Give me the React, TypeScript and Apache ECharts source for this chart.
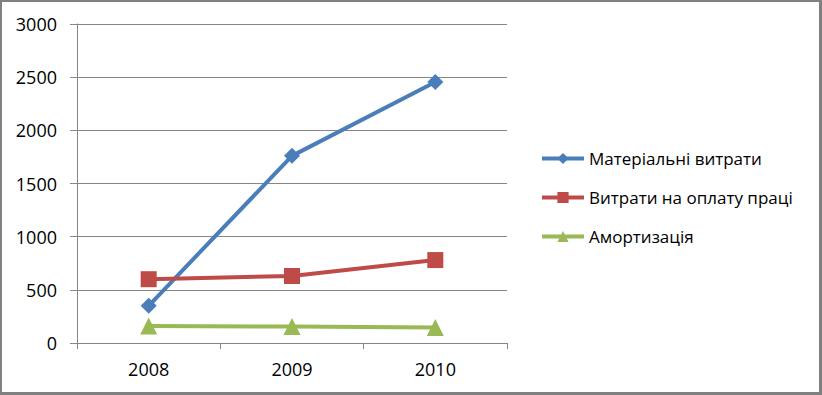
import React, { useEffect, useRef } from "react";
import * as echarts from "echarts";

const years = ["2008", "2009", "2010"];
const materialCosts = [350, 1760, 2455];
const laborCosts = [600, 630, 780];
const depreciation = [160, 155, 145];
const seriesNames = ["Матеріальні витрати", "Витрати на оплату праці", "Амортизація"];

const FONT = "'Open Sans', 'Noto Sans', sans-serif";

export default function App() {
  const ref = useRef<HTMLDivElement>(null);
  useEffect(() => {
    document.body.style.margin = "0";
    const chart = echarts.init(ref.current!, null, { renderer: "svg" });
    const axisLine = { show: true, lineStyle: { color: "#868686", width: 1 } };
    chart.setOption({
      animation: false,
      backgroundColor: "#ffffff",
      grid: { left: 77, top: 24, right: 315, bottom: 52 },
      legend: {
        orient: "vertical",
        left: 540,
        top: 150,
        padding: 0,
        itemWidth: 42,
        itemHeight: 14,
        itemGap: 22,
        lineStyle: { width: 4 },
        textStyle: { fontFamily: FONT, fontSize: 17, color: "#000" },
        data: seriesNames,
      },
      xAxis: {
        type: "category",
        data: years,
        boundaryGap: true,
        axisLine,
        axisTick: { show: true, length: 6, inside: false, lineStyle: { color: "#868686" } },
        axisLabel: { fontFamily: FONT, fontSize: 18, color: "#000", margin: 17 },
        splitLine: { show: false },
      },
      yAxis: {
        type: "value",
        min: 0,
        max: 3000,
        interval: 500,
        axisLine,
        axisTick: { show: true, length: 7, lineStyle: { color: "#868686" } },
        axisLabel: {
          fontFamily: FONT,
          fontSize: 18,
          color: "#000",
          margin: 20,
          formatter: (v: number) => String(v),
        },
        splitLine: { show: true, lineStyle: { color: "#868686", width: 1 } },
      },
      series: [
        {
          name: seriesNames[0],
          type: "line",
          data: materialCosts,
          symbol: "diamond",
          symbolSize: 16,
          lineStyle: { width: 4, color: "#4A7EBB" },
          itemStyle: { color: "#4A7EBB" },
        },
        {
          name: seriesNames[1],
          type: "line",
          data: laborCosts,
          symbol: "rect",
          symbolSize: 16,
          lineStyle: { width: 4, color: "#BE4B48" },
          itemStyle: { color: "#BE4B48" },
        },
        {
          name: seriesNames[2],
          type: "line",
          data: depreciation,
          symbol: "triangle",
          symbolSize: 17,
          lineStyle: { width: 4, color: "#98B954" },
          itemStyle: { color: "#98B954" },
        },
      ],
    });
    return () => chart.dispose();
  }, []);
  return (
    <div style={{ position: "absolute", left: 0, top: 0, width: 822, height: 395 }}>
      <div ref={ref} style={{ width: 822, height: 395 }} />
      <div
        style={{
          position: "absolute",
          left: 0,
          top: 0,
          width: 822,
          height: 395,
          boxSizing: "border-box",
          borderStyle: "solid",
          borderColor: "#808080",
          borderWidth: "2px 3px 3px 2px",
          pointerEvents: "none",
        }}
      />
    </div>
  );
}
